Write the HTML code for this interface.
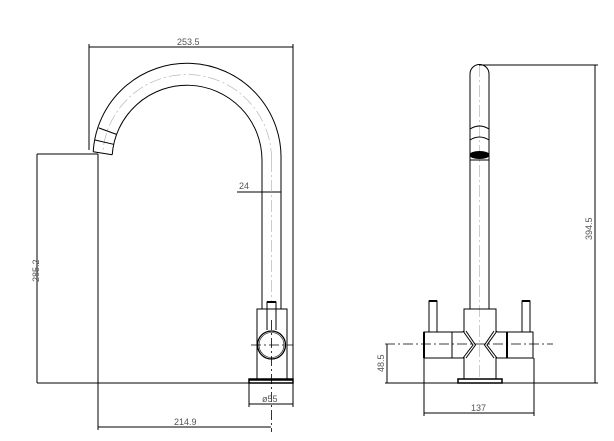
<!DOCTYPE html>
<html><head><meta charset="utf-8"><style>
html,body{margin:0;padding:0;background:#fff;width:614px;height:441px;overflow:hidden}
svg{display:block}
text{font-family:"Liberation Sans",sans-serif;font-size:9px;fill:#555}
.c{stroke:#aaa;stroke-width:0.6;stroke-dasharray:12 3 2 3}
.k{stroke:#000;stroke-width:0.8;stroke-dasharray:10 3 2 3}
</style></head><body>
<svg width="614" height="441" viewBox="0 0 614 441" xmlns="http://www.w3.org/2000/svg">
<g stroke="#000" stroke-width="1" fill="none">
<line x1="89" y1="47" x2="293" y2="47"/>
<line x1="89" y1="44" x2="89" y2="150"/>
<line x1="293" y1="44" x2="293" y2="383"/>
<line x1="37" y1="154" x2="98" y2="154"/>
<line x1="37" y1="154" x2="37" y2="383"/>
<line x1="98" y1="154" x2="98" y2="430"/>
<line x1="37" y1="383" x2="293" y2="383"/>
<line x1="237" y1="192" x2="281" y2="192"/>
<line x1="98" y1="427" x2="271" y2="427"/>
<line x1="249" y1="383" x2="249" y2="407"/>
<line x1="249" y1="404" x2="293" y2="404"/>
<line x1="293" y1="383" x2="293" y2="407"/>
<path d="M281 160 A94 94 0 0 0 93.2 151.8"/>
<path d="M262 160 A75 75 0 0 0 112.2 154.8"/>
<path class="c" d="M271.5 160 A84.5 84.5 0 0 0 102.7 153.3"/>
<line x1="93.2" y1="151.8" x2="112.2" y2="154.8"/>
<line x1="98.7" y1="127.9" x2="116.5" y2="134.4"/>
<line x1="95" y1="140" x2="113.6" y2="144.3"/>
<line x1="262" y1="160" x2="262" y2="309"/>
<line x1="281" y1="160" x2="281" y2="309"/>
<line class="c" x1="271.5" y1="160" x2="271.5" y2="301"/>
<rect x="257" y="309" width="30" height="70"/>
<path d="M267 330 V302 H276 V330"/>
<line x1="267" y1="302" x2="276" y2="302" stroke-width="2"/>
<circle cx="271.5" cy="345" r="14" stroke-width="1.3"/>
<circle cx="271.5" cy="345" r="12.5" stroke-width="0.6"/>
<rect x="249" y="379" width="44" height="4" fill="#fff" stroke-width="1.5"/>
<line x1="249" y1="380" x2="293" y2="380" stroke-width="1.5"/>
<line class="k" x1="251" y1="345" x2="293" y2="345"/>
<line class="k" x1="271.5" y1="320" x2="271.5" y2="432"/>

<path d="M470 309 V74 A9.5 9.5 0 0 1 489 74 V309"/>
<line class="c" x1="479.5" y1="65" x2="479.5" y2="383"/>
<path d="M470 129 Q479.5 123 489 129"/>
<path d="M470 140 Q479.5 134 489 140"/>
<ellipse cx="479.5" cy="155" rx="9.5" ry="3.5" fill="#000"/>
<line x1="470" y1="160" x2="489" y2="160"/>
<line x1="479" y1="65" x2="598" y2="65"/>
<line x1="595" y1="65" x2="595" y2="383"/>
<line x1="385" y1="383" x2="598" y2="383"/>
<rect x="464" y="309" width="32" height="74"/>
<rect x="424" y="332" width="40" height="26"/>
<line x1="452" y1="332" x2="452" y2="358"/>
<rect x="496" y="332" width="37" height="26"/>
<line x1="507" y1="332" x2="507" y2="358"/>
<line x1="424" y1="332" x2="424" y2="358" stroke-width="2"/>
<line x1="507" y1="332" x2="507" y2="358" stroke-width="2"/>
<path d="M429 332 V301 H437 V332"/>
<line x1="429" y1="301" x2="437" y2="301" stroke-width="2"/>
<path d="M522 332 V301 H530 V332"/>
<line x1="522" y1="301" x2="530" y2="301" stroke-width="2"/>
<path d="M463 331 L473 345 L463 358 M466 331 L475.5 345 L466 358" fill="#fff"/>
<path d="M497 331 L487 345 L497 358 M494 331 L484.5 345 L494 358" fill="#fff"/>
<rect x="458" y="379" width="44" height="4" fill="#fff" stroke-width="1.5"/>
<line class="k" x1="385" y1="344" x2="553" y2="344"/>
<line x1="387" y1="344" x2="387" y2="383"/>
<line x1="424" y1="358" x2="424" y2="416"/>
<line x1="534" y1="358" x2="534" y2="416"/>
<line x1="424" y1="413" x2="534" y2="413"/>
</g>
<text x="177" y="45">253.5</text>
<text x="239" y="189">24</text>
<text x="174" y="425">214.9</text>
<text x="262" y="402">ø55</text>
<text x="471" y="411">137</text>
<text transform="translate(39,282) rotate(-90)">285.2</text>
<text transform="translate(384,372) rotate(-90)">48.5</text>
<text transform="translate(592,240) rotate(-90)">394.5</text>
</svg>
</body></html>
